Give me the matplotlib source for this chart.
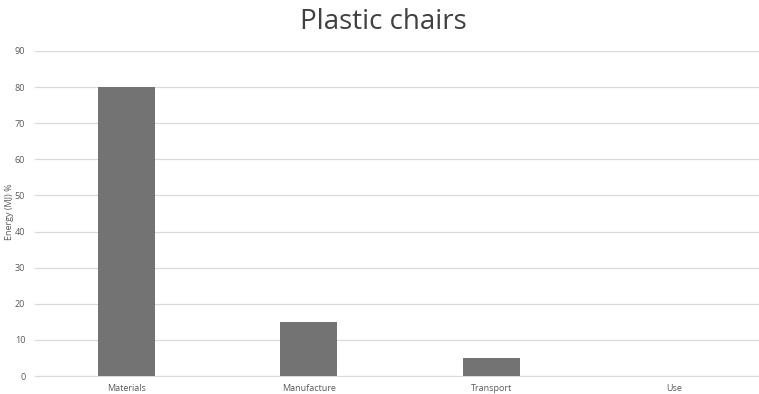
import matplotlib.pyplot as plt
import numpy as np

# Data
categories = ['Materials', 'Manufacture', 'Transport', 'Use']
energy = [80, 15, 5, 0]
yticks = [0, 10, 20, 30, 40, 50, 60, 70, 80, 90]

plt.rcParams['font.family'] = ['Open Sans', 'DejaVu Sans']

fig = plt.figure(figsize=(7.59, 3.94), dpi=100)
ax = fig.add_axes([35 / 759, 1 - 376 / 394, 730 / 759, (376 - 51) / 394])

x = np.arange(len(categories))
ax.bar(x, energy, width=0.31, color='#737373', zorder=3)

ax.set_xlim(-0.5, len(categories) - 0.5)
ax.set_ylim(0, 90)
ax.set_yticks(yticks)
ax.set_xticks(x)
ax.set_xticklabels(categories)
ax.tick_params(axis='both', length=0, labelsize=6.5, colors='#595959')
ax.tick_params(axis='y', pad=7)
ax.tick_params(axis='x', pad=6)

ax.grid(axis='y', color='#d9d9d9', linewidth=0.9, zorder=0)
for side in ['top', 'right', 'left']:
    ax.spines[side].set_visible(False)
ax.spines['bottom'].set_color('#d9d9d9')

# y axis title placed in figure coordinates so it stays inside the image
fig.text(10 / 759, 1 - 212 / 394, 'Energy (MJ) %', rotation=90,
         ha='center', va='center', fontsize=6.5, color='#595959')

fig.text(0.505, 0.945, 'Plastic chairs', ha='center', va='center',
         fontsize=20, color='#404040')

fig.savefig('out.png', dpi=100)
